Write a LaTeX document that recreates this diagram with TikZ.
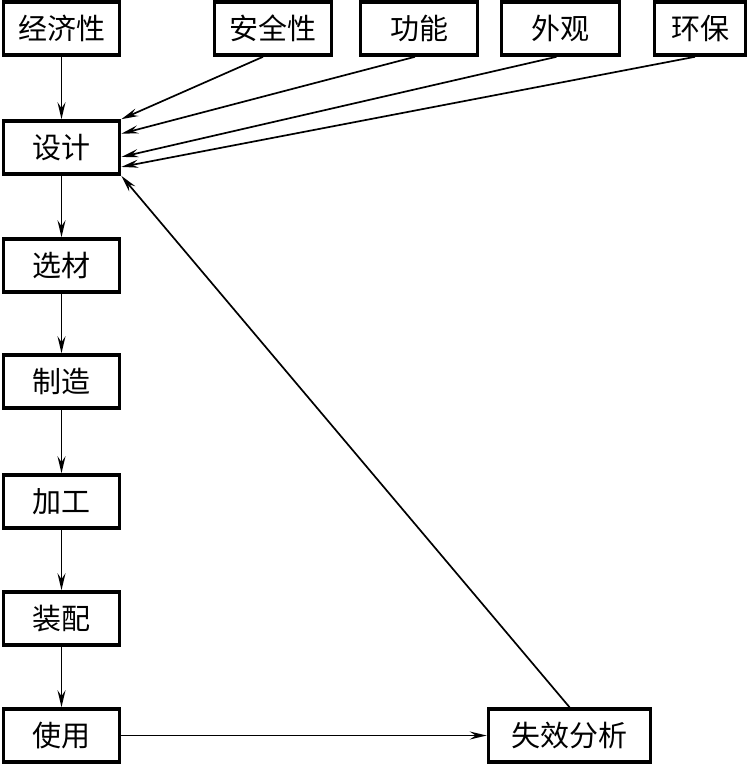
\documentclass[tikz,border=0pt]{standalone}
\usepackage{fontspec}
\setmainfont{Noto Sans CJK SC}
\usetikzlibrary{arrows.meta}

\begin{document}
\begin{tikzpicture}[x=1pt, y=-1pt, >={Stealth[length=17pt,width=8pt,inset=6pt]},
  box/.style={draw, line width=3.6pt, minimum width=116pt, minimum height=53pt,
    inner sep=0pt, font=\fontsize{29}{33}\selectfont},
  link/.style={->, line width=1.7pt}]
  \useasboundingbox (0,0) rectangle (748,766);

  % 1. 左列: 产品流程
  \node[box] (jjx) at (61.5,28.5) {经济性};
  \node[box] (sj)  at (61.5,147.5) {设计};
  \node[box] (xc)  at (61.5,265.5) {选材};
  \node[box] (zz)  at (61.5,381.5) {制造};
  \node[box] (jg)  at (61.5,501.5) {加工};
  \node[box] (zp)  at (61.5,618.5) {装配};
  \node[box] (sy)  at (61.5,735.5) {使用};

  % 2. 顶行: 设计要求
  \node[box, minimum width=117pt] (aqx) at (273,28.5) {安全性};
  \node[box, minimum width=117pt] (gn)  at (419,28.5) {功能};
  \node[box, minimum width=118pt] (wg)  at (560.5,28.5) {外观};
  \node[box, minimum width=91pt]  (hb)  at (700,28.5) {环保};

  % 3. 失效分析
  \node[box, minimum width=162pt] (sxfx) at (569.5,735.5) {失效分析};

  % 4. 流程箭头
  \draw[link] (jjx) -- (sj);
  \draw[link] (sj) -- (xc);
  \draw[link] (xc) -- (zz);
  \draw[link] (zz) -- (jg);
  \draw[link] (jg) -- (zp);
  \draw[link] (zp) -- (sy);
  \draw[link] (sy) -- (sxfx);

  % 5. 汇入设计
  \draw[link] ([xshift=-10pt]aqx.south) -- (sj.north east);
  \draw[link] ([xshift=-4pt]gn.south) -- (sj.13);
  \draw[link] ([xshift=-4pt]wg.south) -- (sj.-9);
  \draw[link] ([xshift=-5pt]hb.south) -- (sj.-18);
  \draw[link] (sxfx.north) -- (sj.south east);
\end{tikzpicture}
\end{document}
